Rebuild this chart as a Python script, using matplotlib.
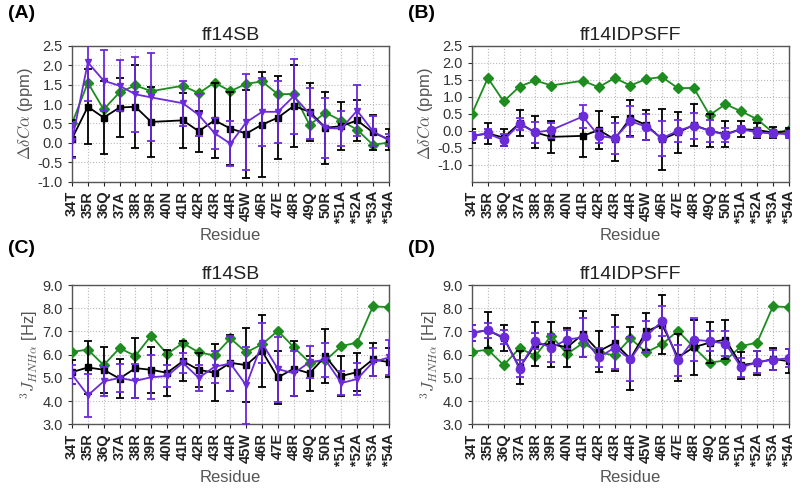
import numpy as np
import matplotlib
matplotlib.use('Agg')
import matplotlib.pyplot as plt

plt.rcParams['font.family'] = ['Liberation Sans', 'DejaVu Sans']
plt.rcParams['mathtext.fontset'] = 'cm'

# residues 34-54 (x = residue number)
resid = list(range(34, 55))
labels = ['34T', '35R', '36Q', '37A', '38R', '39R', '40N', '41R', '42R', '43R', '44R',
          '45W', '46R', '47E', '48R', '49Q', '50R', '*51A', '*52A', '*53A', '*54A']
nan = np.nan

# --- delta delta C-alpha (ppm) ---
ca_exp = [0.50, 1.55, 0.86, 1.30, 1.48, 1.33, nan, 1.47, 1.28, 1.55, 1.33,
          1.52, 1.58, 1.25, 1.26, 0.46, 0.78, 0.57, 0.34, -0.05, 0.01]

ca_sb_a = [0.11, 0.93, 0.65, 0.91, 0.93, 0.54, nan, 0.58, 0.30, 0.58, 0.37,
           0.24, 0.47, 0.65, 0.95, 0.80, 0.39, 0.43, 0.58, 0.27, 0.09]
ca_sb_a_err = [0.47, 0.96, 0.93, 0.75, 1.07, 0.91, nan, 0.70, 0.53, 0.97, 0.94,
               1.13, 1.35, 1.07, 1.05, 0.75, 0.93, 0.62, 0.53, 0.46, 0.28]
ca_sb_b = [0.05, 2.07, 1.60, 1.47, 1.25, 1.17, nan, 1.02, 0.72, 0.25, -0.02,
           0.53, 0.80, 0.80, 1.20, 0.75, 0.38, 0.37, 0.83, 0.30, 0.07]
ca_sb_b_err = [0.45, 1.00, 0.78, 0.66, 0.97, 1.13, nan, 0.58, 0.55, 0.40, 0.58,
               1.23, 0.87, 0.80, 0.97, 0.65, 0.78, 0.45, 0.65, 0.38, 0.15]

ca_idp_a = [-0.15, -0.08, -0.20, 0.22, -0.05, -0.18, nan, -0.15, 0.02, -0.25, 0.37,
            0.17, -0.25, -0.05, 0.17, 0.00, -0.10, 0.05, 0.02, -0.05, -0.02]
ca_idp_a_err = [0.20, 0.32, 0.25, 0.38, 0.47, 0.48, nan, 0.63, 0.55, 0.65, 0.52,
                0.43, 0.90, 0.60, 0.62, 0.49, 0.39, 0.23, 0.22, 0.16, 0.10]
ca_idp_b = [-0.15, -0.08, -0.28, 0.20, -0.05, 0.02, nan, 0.42, -0.15, -0.22, 0.28,
            0.12, -0.22, 0.00, 0.15, 0.00, -0.12, 0.05, -0.05, -0.08, -0.10]
ca_idp_b_err = [0.10, 0.12, 0.18, 0.18, 0.30, 0.22, nan, 0.33, 0.20, 0.45, 0.45,
                0.38, 0.52, 0.32, 0.38, 0.32, 0.20, 0.10, 0.12, 0.10, 0.10]

# --- 3J HN-Halpha (Hz) ---
j_exp = [6.12, 6.22, 5.55, 6.28, 5.95, 6.82, 6.03, 6.50, 6.10, 5.97, 6.70,
         6.10, 6.45, 7.03, 6.32, 5.66, 5.75, 6.37, 6.52, 8.08, 8.05]

j_sb_a = [5.25, 5.45, 5.35, 4.97, 5.42, 5.35, 5.22, 5.72, 5.35, 5.22, 5.65,
          5.55, 6.15, 5.02, 5.40, 5.20, 5.93, 5.08, 5.25, 5.80, 5.68]
j_sb_a_err = [0.50, 1.15, 1.00, 0.85, 1.30, 1.00, 1.00, 0.87, 0.72, 1.22, 1.20,
              1.60, 1.55, 1.15, 1.18, 0.75, 1.17, 0.85, 0.82, 0.70, 0.62]
j_sb_b = [5.15, 4.25, 4.85, 5.00, 4.87, 5.03, 5.08, 5.65, 5.00, 5.48, 5.62,
          4.68, 6.50, 5.38, 5.20, 5.68, 5.78, 4.78, 4.95, 5.68, 5.88]
j_sb_b_err = [0.40, 0.92, 0.62, 0.62, 0.72, 0.95, 0.47, 0.43, 0.57, 0.68, 1.20,
              1.65, 0.85, 1.40, 0.97, 0.68, 0.72, 0.50, 0.70, 0.60, 0.75]

j_idp_a = [6.95, 7.05, 6.72, 5.45, 6.45, 6.45, 6.32, 6.88, 6.15, 6.50, 5.83,
           7.00, 7.30, 5.88, 6.32, 6.52, 6.65, 5.55, 5.65, 5.82, 5.72]
j_idp_a_err = [0.35, 0.77, 0.58, 0.70, 0.94, 0.97, 0.85, 1.00, 0.88, 1.22, 1.35,
               0.80, 1.28, 1.02, 1.18, 0.88, 0.83, 0.58, 0.52, 0.48, 0.52]
j_idp_b = [6.95, 7.05, 6.75, 5.40, 6.58, 6.30, 6.65, 6.75, 5.88, 6.30, 5.80,
           6.80, 7.45, 5.75, 6.65, 6.58, 6.48, 5.45, 5.68, 5.78, 5.85]
j_idp_b_err = [0.35, 0.33, 0.30, 0.37, 0.35, 0.60, 0.40, 0.85, 0.40, 0.90, 0.95,
               0.67, 0.65, 0.68, 0.93, 0.42, 0.52, 0.40, 0.47, 0.42, 0.40]

GREEN = '#1e8c1e'
PURPLE = '#6c2bd9'
BLACK = '#000000'
GRAY = '#555555'


def draw(ax, exp, a, a_err, b, b_err, b_marker, b_ms):
    x = np.array(resid, dtype=float)
    exp, a, a_err, b, b_err = map(np.array, (exp, a, a_err, b, b_err))
    ok = ~np.isnan(exp)
    ax.plot(x[ok], exp[ok], '-', marker='D', color=GREEN, lw=1.3, ms=5, zorder=3)
    ok = ~np.isnan(a)
    ax.errorbar(x[ok], a[ok], yerr=a_err[ok], color=BLACK, marker='s', ms=5,
                lw=1.3, elinewidth=1.3, capsize=3, capthick=1.3, zorder=4)
    ok = ~np.isnan(b)
    ax.errorbar(x[ok], b[ok], yerr=b_err[ok], color=PURPLE, marker=b_marker, ms=b_ms,
                lw=1.3, elinewidth=1.3, capsize=3, capthick=1.3, zorder=5)
    ax.set_xlim(34, 54)
    ax.set_xticks(resid)
    ax.set_xticklabels(labels, rotation=90, fontweight='bold', fontsize=10.5)
    ax.grid(True, ls=':', color='#bbbbbb', lw=0.8)
    ax.set_axisbelow(True)
    for sp in ax.spines.values():
        sp.set_color(GRAY)
        sp.set_linewidth(1.0)
    ax.tick_params(axis='both', colors='#333333', labelsize=10.5, length=3, width=0.8)
    ax.tick_params(axis='x', colors='#222222')


fig = plt.figure(figsize=(8, 4.94), dpi=100)

axA = fig.add_axes([0.09, 0.632, 0.396, 0.2755])
axB = fig.add_axes([0.59, 0.632, 0.396, 0.2755])
axC = fig.add_axes([0.09, 0.141, 0.396, 0.282])
axD = fig.add_axes([0.59, 0.141, 0.396, 0.282])

draw(axA, ca_exp, ca_sb_a, ca_sb_a_err, ca_sb_b, ca_sb_b_err, 'v', 5)
draw(axB, ca_exp, ca_idp_a, ca_idp_a_err, ca_idp_b, ca_idp_b_err, 'o', 6)
draw(axC, j_exp, j_sb_a, j_sb_a_err, j_sb_b, j_sb_b_err, 'v', 5)
draw(axD, j_exp, j_idp_a, j_idp_a_err, j_idp_b, j_idp_b_err, 'o', 6)

ca_ticks = np.arange(-1.0, 2.51, 0.5)
axA.set_ylim(-1.0, 2.5)
axB.set_ylim(-1.5, 2.5)
j_ticks = np.arange(3.0, 9.01, 1.0)
for ax in (axA, axB):
    ax.set_yticks(ca_ticks)
    ax.set_yticklabels(['%.1f' % t for t in ca_ticks])
    ax.set_ylabel(r'$\Delta\delta C\alpha$ (ppm)', fontsize=12, color=GRAY, labelpad=2)
for ax in (axC, axD):
    ax.set_ylim(3.0, 9.0)
    ax.set_yticks(j_ticks)
    ax.set_yticklabels(['%.1f' % t for t in j_ticks])
    ax.set_ylabel(r'$^3J_{HNH\alpha}$ [Hz]', fontsize=12, color=GRAY, labelpad=2)
for ax in (axA, axB, axC, axD):
    ax.set_xlabel('Residue', fontsize=12, color=GRAY, labelpad=3)

for ax, t in zip((axA, axB, axC, axD), ('ff14SB', 'ff14IDPSFF', 'ff14SB', 'ff14IDPSFF')):
    ax.set_title(t, fontsize=14, color='#222222', pad=4)

fig.text(0.01, 0.972, '(A)', fontsize=14, fontweight='bold', va='center')
fig.text(0.51, 0.972, '(B)', fontsize=14, fontweight='bold', va='center')
fig.text(0.01, 0.497, '(C)', fontsize=14, fontweight='bold', va='center')
fig.text(0.51, 0.497, '(D)', fontsize=14, fontweight='bold', va='center')

fig.savefig('out.png', dpi=100)
